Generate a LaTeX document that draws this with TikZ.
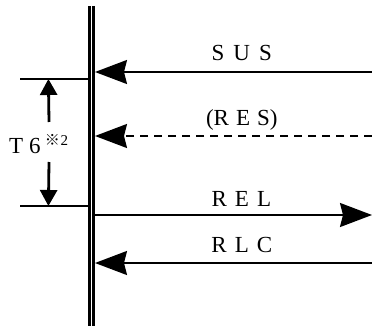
\documentclass[tikz,border=0pt]{standalone}
\usepackage{fontspec}
\setmainfont{Liberation Serif}
\newfontfamily\cjkmark{Noto Sans CJK JP}
\usetikzlibrary{arrows.meta,positioning,calc}

\begin{document}
\begin{tikzpicture}[x=1pt,y=-1pt,
		sig/.style={line width=1.8pt,-{Stealth[length=32pt,width=24pt,inset=3pt]}},
		dim/.style={line width=2.8pt,-{Triangle[length=16pt,width=17pt]}},
		lbl/.style={font=\fontsize{23}{23}\selectfont,inner sep=0pt,anchor=base}]
		\useasboundingbox (0,0) rectangle (372,326);
		% time line
		\coordinate (top) at (91.5,6);
		\coordinate (bot) at (91.5,326);
		\draw[double,line width=2.6pt,double distance=1.3pt] (top) -- (bot);
		%
		\coordinate (susL) at (95,72);
		\coordinate (susR) at (372,72);
		\coordinate (resL) at (95,136);
		\coordinate (resR) at (372,136);
		\coordinate (relL) at (94,215);
		\coordinate (relR) at (372,215);
		\coordinate (rlcL) at (95,263);
		\coordinate (rlcR) at (372,263);
		\draw[sig] (susR) -- (susL);
		\draw[sig,dash pattern=on 8pt off 6pt] (resR) -- (resL);
		\draw[sig] (relL) -- (relR);
		\draw[sig] (rlcR) -- (rlcL);
		\node[lbl] (sus) at ($(susL)!0.53!(susR)+(0,-11)$) {S\hspace{9pt}U\hspace{9pt}S};
		\node[lbl] (res) at ($(resL)!0.53!(resR)+(0,-10)$) {(R\hspace{7pt}E\hspace{7pt}S)};
		\node[lbl] (rel) at ($(relL)!0.53!(relR)+(0,-8.5)$) {R\hspace{8pt}E\hspace{8pt}L};
		\node[lbl] (rlc) at ($(rlcL)!0.53!(rlcR)+(0,-10.5)$) {R\hspace{8pt}L\hspace{8pt}C};
		%
		\coordinate (t6a) at (20,79);
		\coordinate (t6b) at (20,206);
		\coordinate (t6aR) at (91,79);
		\coordinate (t6bR) at (91,206);
		\draw[line width=1.4pt] (t6a) -- (t6aR);
		\draw[line width=1.4pt] (t6b) -- (t6bR);
		\coordinate (upA) at (49,122);
		\coordinate (dnA) at (49,162);
		\draw[dim] (upA) -- ($(t6a)!0.4!(t6aR)$);
		\draw[dim] (dnA) -- ($(t6b)!0.4!(t6bR)$);
		\node[lbl,anchor=base west] (t6) at (9,153.3) {T\hspace{6pt}6\hspace{4pt}\raisebox{8pt}{\fontsize{15}{15}\selectfont{\cjkmark ※}\hspace{1pt}2}};
\end{tikzpicture}
\end{document}
